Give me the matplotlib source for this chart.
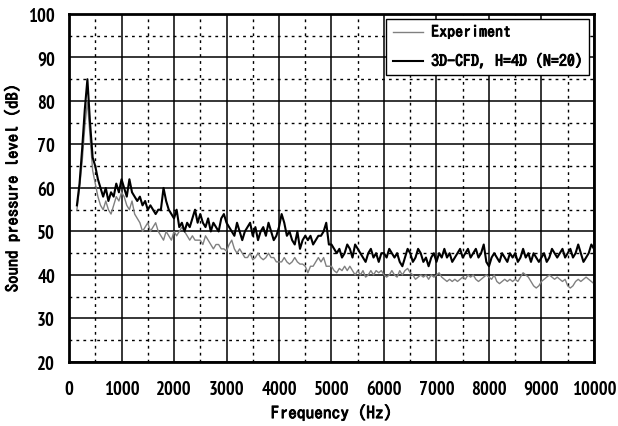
import numpy as np
import matplotlib.pyplot as plt
import matplotlib.patheffects as pe
from matplotlib.ticker import MultipleLocator

# spectrum bins (Hz)
freq = np.arange(150, 10001, 50)

# 3D-CFD, H=4D (N=20)
spl_cfd = [
    56, 61, 69, 78, 85, 75, 67,
    65, 62, 60, 58, 60, 57, 59, 58, 61, 59,
    62, 60, 58, 62, 59, 58, 57, 58, 56, 57,
    55, 56, 55, 54, 55, 55, 60, 57, 55, 54,
    53, 55, 51, 52, 50, 52, 51, 53, 55, 52,
    54, 52, 51, 53, 50, 52, 51, 50, 53, 54,
    52, 51, 50, 49, 52, 50, 48, 50, 51, 52,
    49, 51, 48, 50, 51, 49, 52, 50, 48, 49,
    51, 54, 52, 49, 50, 48, 47, 50, 46, 48,
    49, 48, 49, 47, 48, 49, 49, 50, 52, 47,
    47, 46, 45, 46, 44, 45, 47, 46, 44, 47,
    46, 45, 44, 43, 45, 46, 44, 45, 43, 45,
    45, 44, 46, 45, 44, 45, 43, 42, 44, 46,
    45, 43, 44, 46, 45, 43, 44, 42, 44, 45,
    43, 45, 44, 46, 44, 45, 43, 44, 45, 46,
    44, 45, 46, 44, 45, 46, 44, 45, 47, 43,
    42, 44, 45, 44, 43, 45, 44, 43, 45, 44,
    45, 43, 44, 46, 44, 45, 43, 45, 44, 43,
    44, 45, 43, 44, 46, 45, 44, 45, 46, 44,
    45, 46, 44, 45, 47, 45, 43, 44, 45, 47,
    46,
]

# measured spectrum
spl_exp = [
    55, 60, 66, 74, 80, 72, 64,
    61, 58, 56, 55, 57, 55, 54, 56, 58, 57,
    59, 58, 56, 55, 57, 54, 53, 52, 50, 51,
    52, 50, 51, 52, 50, 49, 48, 50, 49, 48,
    50, 49, 50, 51, 50, 49, 48, 49, 48, 48,
    48, 47, 49, 48, 47, 46, 47, 47, 46, 46,
    45.5, 47, 48, 46, 45, 46, 45, 44, 44, 45,
    43.5, 44, 45, 44, 43.5, 44, 45, 44, 44, 43,
    43, 43, 44, 43, 42.5, 43, 44, 43, 42.5, 42.5,
    42, 40.5, 42, 42, 43, 44, 43, 44, 42, 42,
    42, 41, 40.5, 41.5, 41, 42, 41, 42, 41, 40,
    41, 40, 41, 39.5, 40, 41, 40, 41, 40.5, 41,
    40, 39.5, 40, 41, 40, 39.5, 41, 40, 41, 41.5,
    40.5, 40, 39, 39.5, 40, 39.5, 40, 39, 40, 39.5,
    40, 40.5, 39.5, 39, 38.5, 39, 38.5, 39, 38.5, 39,
    39.5, 39, 40, 39.5, 40, 39, 38.5, 39, 39.5, 40,
    39.5, 39, 40, 38.5, 38, 38.5, 39, 38.5, 39, 38.5,
    39, 38.5, 39.5, 40.5, 40, 39.5, 38.5, 37.5, 37, 37.5,
    38.5, 39, 39.5, 40, 39.5, 39, 39.5, 39, 38.5, 39,
    37.5, 37, 37.5, 38.5, 39, 38.5, 39, 39.5, 39, 38.5,
    38,
]

tick_font = ['PT Sans Narrow', 'DejaVu Sans']
label_font = ['IPAGothic', 'DejaVu Sans']
bold = [pe.withStroke(linewidth=0.7, foreground='black')]

fig = plt.figure(figsize=(6.18, 4.27), dpi=100)
ax = fig.add_axes([0.1117, 0.150, 0.8494, 0.815])

ax.plot(freq, spl_exp, color='#808080', linewidth=1.0, label='Experiment')
ax.plot(freq, spl_cfd, color='black', linewidth=1.5, label='3D-CFD, H=4D (N=20)')

ax.set_xlim(0, 10000)
ax.set_ylim(20, 100)
ax.xaxis.set_major_locator(MultipleLocator(1000))
ax.xaxis.set_minor_locator(MultipleLocator(500))
ax.yaxis.set_major_locator(MultipleLocator(10))
ax.yaxis.set_minor_locator(MultipleLocator(5))
ax.grid(which='major', color='black', linewidth=1.1, linestyle='-')
ax.grid(which='minor', color='black', linewidth=1.0, linestyle=(0, (2, 3)))
ax.set_axisbelow(True)
ax.tick_params(which='both', length=0)
ax.tick_params(axis='x', pad=13)
ax.tick_params(axis='y', pad=10)
for lbl in ax.get_xticklabels() + ax.get_yticklabels():
    lbl.set_family(tick_font)
    lbl.set_fontsize(13.5)
    lbl.set_fontweight('bold')
for s in ax.spines.values():
    s.set_linewidth(2)

ax.set_xlabel('Frequency (Hz)', fontsize=12.5, family=label_font, labelpad=5,
              path_effects=bold)
ax.set_ylabel('Sound pressure level (dB)', fontsize=12, family=label_font,
              labelpad=6, path_effects=bold)

leg = ax.legend(loc='upper right', prop={'family': label_font, 'size': 11.5},
                handlelength=1.9, handletextpad=0.5, borderaxespad=0.3,
                fancybox=False, framealpha=1, edgecolor='black', labelspacing=0.85)
leg.get_frame().set_linewidth(1.0)
for t in leg.get_texts():
    t.set_path_effects(bold)

plt.savefig('out.png', dpi=100)
